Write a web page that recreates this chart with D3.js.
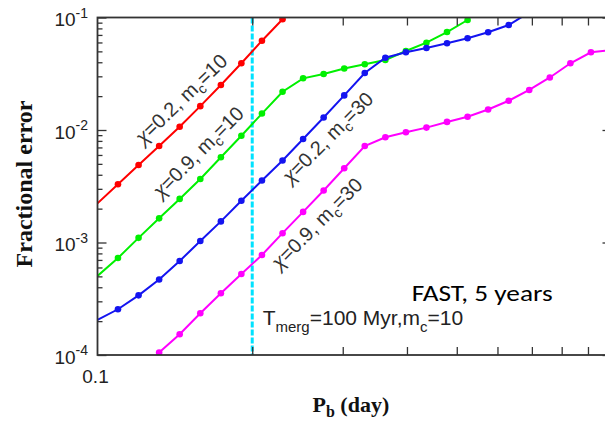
<!DOCTYPE html>
<html><head><meta charset="utf-8">
<script src="https://cdn.jsdelivr.net/npm/d3@7"></script>
<style>html,body{margin:0;padding:0;background:#fff;overflow:hidden}</style>
</head><body>
<svg id="c" width="605" height="421"></svg>
<script>
// ---- data ----
const pb = [0.1, 0.1096, 0.1202, 0.1318, 0.1445, 0.1585, 0.1738, 0.1905, 0.2089, 0.2291,
            0.2512, 0.2754, 0.302, 0.3311, 0.3631, 0.3981, 0.4365, 0.4786, 0.5248, 0.5754,
            0.631, 0.6918, 0.7586, 0.8318, 0.912, 1.0];
const redErr = [2.23e-3, 3.29e-3, 4.89e-3, 7.21e-3, 1.07e-2, 1.63e-2, 2.51e-2, 3.92e-2, 6.22e-2, 9.64e-2];
const greenErr = [5.04e-4, 7.28e-4, 1.10e-3, 1.64e-3, 2.44e-3, 3.67e-3, 5.72e-3, 8.90e-3, 1.40e-2, 2.19e-2,
                  2.88e-2, 3.15e-2, 3.52e-2, 3.84e-2, 4.19e-2, 5.04e-2, 5.97e-2, 7.43e-2, 9.50e-2];
const blueErr = [2.05e-4, 2.55e-4, 3.39e-4, 4.69e-4, 6.85e-4, 1.03e-3, 1.54e-3, 2.35e-3, 3.56e-3, 5.36e-3,
                 8.32e-3, 1.29e-2, 2.03e-2, 3.21e-2, 4.39e-2, 4.91e-2, 5.36e-2, 5.90e-2, 6.53e-2, 7.39e-2,
                 8.58e-2, 0.111];
const magentaErr = [null, null, null, 1.05e-4, 1.53e-4, 2.35e-4, 3.54e-4, 5.25e-4, 7.74e-4, 1.21e-3,
                    1.87e-3, 2.90e-3, 4.57e-3, 7.21e-3, 8.61e-3, 9.54e-3, 1.05e-2, 1.18e-2, 1.31e-2, 1.52e-2,
                    1.82e-2, 2.27e-2, 2.93e-2, 3.92e-2, 4.91e-2, 5.14e-2];
const seriesNames = ["χ=0.2, mc=10", "χ=0.9, mc=10", "χ=0.2, mc=30", "χ=0.9, mc=30"];
const yMajorTicks = [1e-4, 1e-3, 1e-2, 1e-1];
const yMajorExp = ["-4", "-3", "-2", "-1"];
const xMinorTicks = [0.2, 0.3, 0.4, 0.5, 0.6, 0.7, 0.8, 0.9];
const xLabelTicks = [0.1];
const xLabelText = ["0.1"];
const mergerPb = 0.2;

// ---- layout ----
const svg = d3.select("#c");
const L = 97.5, R = 611.5, T = 17.5, B = 355;
const x = d3.scaleLog().domain([0.1, 1]).range([L, R]);
const y = d3.scaleLog().domain([1e-4, 1e-1]).range([B, T]);
const axisCol = "#333";

svg.append("defs").append("clipPath").attr("id", "plot")
  .append("rect").attr("x", L).attr("y", T).attr("width", R - L).attr("height", B - T);

// merger line
svg.append("line")
  .attr("x1", x(mergerPb)).attr("x2", x(mergerPb)).attr("y1", T).attr("y2", B)
  .attr("stroke", "#00e2ff").attr("stroke-width", 3).attr("stroke-dasharray", "6,2");

// curves
const series = [
  {vals: redErr, color: "#ff0000"},
  {vals: greenErr, color: "#00f000"},
  {vals: blueErr, color: "#1414f0"},
  {vals: magentaErr, color: "#ff00ff"}
];
const line = d3.line().defined(d => d[1] != null).x(d => x(d[0])).y(d => y(d[1]));
const g = svg.append("g").attr("clip-path", "url(#plot)");
series.forEach(s => {
  const pts = s.vals.map((v, i) => [pb[i], v]);
  g.append("path").datum(pts).attr("d", line)
    .attr("fill", "none").attr("stroke", s.color).attr("stroke-width", 2);
  g.selectAll(null).data(pts.filter(d => d[1] != null && d[0] > 0.1 && d[1] <= 0.1))
    .enter().append("circle")
    .attr("cx", d => x(d[0])).attr("cy", d => y(d[1])).attr("r", 3.3)
    .attr("fill", s.color);
});

// axes ticks
const yMinor = y.ticks().filter(v => !yMajorTicks.some(m => Math.abs(m - v) / m < 1e-6));
function styleAxis(sel) {
  sel.select(".domain").remove();
  sel.selectAll("line").attr("stroke", axisCol).attr("stroke-width", 1.3);
}
svg.append("g").attr("transform", `translate(${L},0)`)
  .call(d3.axisLeft(y).tickValues(yMinor).tickSize(-5).tickFormat("")).call(styleAxis);
svg.append("g").attr("transform", `translate(${L},0)`)
  .call(d3.axisLeft(y).tickValues(yMajorTicks).tickSize(-9).tickFormat("")).call(styleAxis);
svg.append("g").attr("transform", `translate(${R},0)`)
  .call(d3.axisRight(y).tickValues(yMajorTicks).tickSize(-9).tickFormat("")).call(styleAxis);
svg.append("g").attr("transform", `translate(${R},0)`)
  .call(d3.axisRight(y).tickValues(yMinor).tickSize(-5).tickFormat("")).call(styleAxis);
svg.append("g").attr("transform", `translate(0,${B})`)
  .call(d3.axisBottom(x).tickValues(xMinorTicks).tickSize(-8).tickFormat("")).call(styleAxis);
svg.append("g").attr("transform", `translate(0,${T})`)
  .call(d3.axisTop(x).tickValues(xMinorTicks).tickSize(-8).tickFormat("")).call(styleAxis);

// frame
svg.append("rect").attr("x", L).attr("y", T).attr("width", R - L).attr("height", B - T)
  .attr("fill", "none").attr("stroke", axisCol).attr("stroke-width", 1.8);

// y tick labels
const tl = svg.append("g").attr("font-family", "'Liberation Sans', Arial, sans-serif").attr("fill", "#222");
yMajorTicks.forEach((v, i) => {
  const t = tl.append("text").attr("x", 88).attr("y", y(v) + 8.5).attr("text-anchor", "end");
  t.append("tspan").attr("font-size", 19).text("10");
  t.append("tspan").attr("font-size", 14).attr("dy", -8.5).text(yMajorExp[i]);
});
xLabelTicks.forEach((v, i) => {
  tl.append("text").attr("x", x(v) - 2).attr("y", 383).attr("text-anchor", "middle")
    .attr("font-size", 19).text(xLabelText[i]);
});

// axis titles
svg.append("text").attr("transform", "translate(31.5,184) rotate(-90)")
  .attr("text-anchor", "middle").attr("font-family", "'Liberation Serif', 'Times New Roman', serif")
  .attr("font-weight", "bold").attr("font-size", 24).attr("fill", "#111").text("Fractional error");
const xt = svg.append("text").attr("x", 312.5).attr("y", 411.5)
  .attr("font-family", "'Liberation Serif', 'Times New Roman', serif")
  .attr("font-weight", "bold").attr("font-size", 22).attr("fill", "#111");
xt.append("tspan").text("P");
xt.append("tspan").attr("font-size", 16).attr("dy", 5).text("b");
xt.append("tspan").attr("dy", -5).text(" (day)");

// curve labels
const curveLabels = [
  {chi: "0.2", mc: "10", cx: 186, cy: 104, a: -44},
  {chi: "0.9", mc: "10", cx: 203, cy: 157, a: -45},
  {chi: "0.2", mc: "30", cx: 332.5, cy: 142.5, a: -45},
  {chi: "0.9", mc: "30", cx: 321.7, cy: 228.3, a: -45}
];
curveLabels.forEach(c => {
  const t = svg.append("text").attr("transform", `translate(${c.cx},${c.cy}) rotate(${c.a})`)
    .attr("text-anchor", "middle").attr("font-family", "'Liberation Sans', Arial, sans-serif")
    .attr("font-size", 20).attr("fill", "#333");
  t.append("tspan").attr("font-style", "italic").text("χ");
  t.append("tspan").text(`=${c.chi}, m`);
  t.append("tspan").attr("font-size", 14).attr("dy", 5).text("c");
  t.append("tspan").attr("dy", -5).text(`=${c.mc}`);
});

// annotations
svg.append("text").attr("x", 411.7).attr("y", 300.7)
  .attr("font-family", "Carlito, Lato, sans-serif").attr("font-size", 23).attr("font-weight", 400)
  .attr("fill", "#000")
  .attr("textLength", 141).attr("lengthAdjust", "spacingAndGlyphs").text("FAST, 5 years");
const tm = svg.append("text").attr("x", 262.7).attr("y", 325)
  .attr("font-family", "'Liberation Sans', Arial, sans-serif").attr("font-size", 21).attr("fill", "#222");
tm.append("tspan").text("T");
tm.append("tspan").attr("font-size", 15).attr("dy", 7).text("merg");
tm.append("tspan").attr("dy", -7).text("=100 Myr,m");
tm.append("tspan").attr("font-size", 15).attr("dy", 7).text("c");
tm.append("tspan").attr("dy", -7).text("=10");
</script>
</body></html>
